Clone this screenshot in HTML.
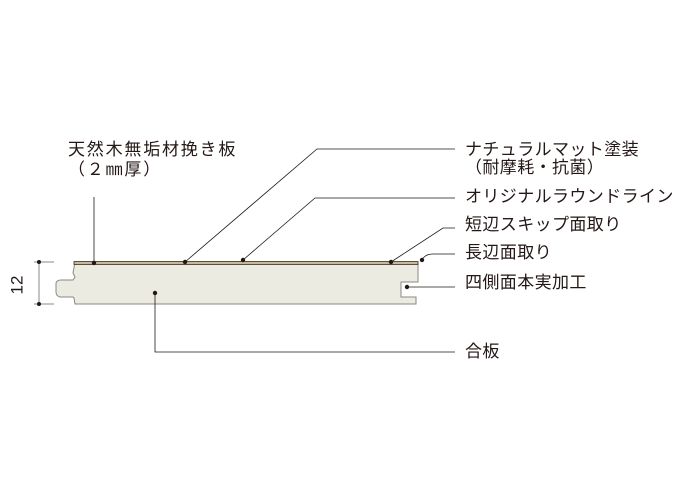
<!DOCTYPE html>
<html><head><meta charset="utf-8"><style>
html,body{margin:0;padding:0;background:#fff;}
body{width:686px;height:500px;overflow:hidden;position:relative;font-family:"Liberation Sans","Noto Sans CJK JP",sans-serif;color:#231815;}
.t{position:absolute;font-size:17px;line-height:20px;white-space:nowrap;letter-spacing:0.4px;}
</style></head><body>
<svg width="686" height="500" style="position:absolute;left:0;top:0">
<g stroke="#231815" stroke-width="1" fill="none">
<line x1="39" y1="262" x2="39" y2="304" stroke="#888"/>
<line x1="34" y1="262" x2="54" y2="262" stroke="#888"/>
<line x1="34" y1="304" x2="54" y2="304" stroke="#888"/>
</g>
<circle cx="39" cy="262" r="2" fill="#231815"/>
<circle cx="39" cy="304" r="2" fill="#231815"/>
<path d="M75,262 L418,262 L418,282 L401,282 L401,297 L416,297 L416,304 L75,304 L74,298 L73,297 L60,297 Q56,296 56,292 L56,283 Q57,280 61,280 L73,280 L75,277 L73,273 Z" fill="#ecebe1" stroke="#8a8a80" stroke-width="1"/>
<rect x="74" y="261.5" width="344" height="3" fill="#c8b896" stroke="#3a2f25" stroke-width="0.8"/>
<g stroke="#231815" stroke-width="0.8" fill="none">
<polyline points="94,263 94,197"/>
<polyline points="185,262 317,149 455,149"/>
<polyline points="243,260 315,198 455,198"/>
<polyline points="391,262 443,228 455,228"/>
<path d="M422,260 Q425,254 433,254 L455,254"/>
<polyline points="407,287 455,287"/>
<polyline points="155,293 155,352 455,352"/>
</g>
<g fill="#231815">
<circle cx="94" cy="263" r="2.2"/><circle cx="185" cy="262" r="2.2"/><circle cx="243" cy="260" r="2.2"/>
<circle cx="391" cy="262" r="2.2"/><circle cx="422" cy="260" r="2.2"/><circle cx="407" cy="287" r="2.2"/>
<circle cx="155" cy="293" r="2.2"/>
</g>
<text x="18" y="285" font-size="17" fill="#231815" transform="rotate(-90 18 285)" text-anchor="middle" dominant-baseline="middle" font-family="Liberation Sans, sans-serif">12</text>
</svg>
<div class="t" style="left:68px;top:140px;letter-spacing:1.8px">天然木無垢材挽き板</div>
<div class="t" style="left:68px;top:160px;letter-spacing:1.8px">（２㎜厚）</div>
<div class="t" style="left:465px;top:140px">ナチュラルマット塗装</div>
<div class="t" style="left:465px;top:158px">（耐摩耗・抗菌）</div>
<div class="t" style="left:465px;top:187px">オリジナルラウンドライン</div>
<div class="t" style="left:465px;top:215px">短辺スキップ面取り</div>
<div class="t" style="left:465px;top:243px">長辺面取り</div>
<div class="t" style="left:465px;top:273px">四側面本実加工</div>
<div class="t" style="left:465px;top:342px">合板</div>
</body></html>
